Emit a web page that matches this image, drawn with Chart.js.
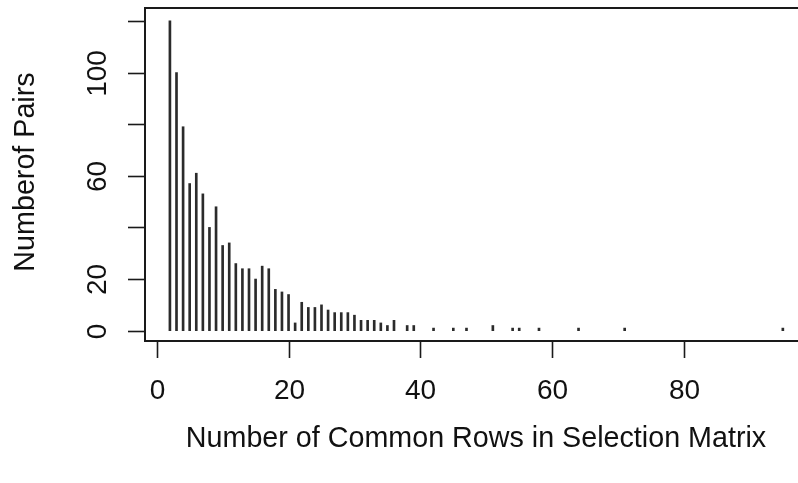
<!DOCTYPE html>
<html>
<head>
<meta charset="utf-8">
<script src="https://cdn.jsdelivr.net/npm/chart.js@4/dist/chart.umd.min.js"></script>
<style>
    body { margin: 0; background: #fff; overflow: hidden; }
    canvas { display: block; }
</style>
</head>
<body>
<canvas id="chart" width="798" height="483"></canvas>
<script>
const commonRows = [2, 3, 4, 5, 6, 7, 8, 9, 10, 11, 12, 13, 14, 15, 16, 17, 18, 19, 20,
    21, 22, 23, 24, 25, 26, 27, 28, 29, 30, 31, 32, 33, 34, 35, 36, 38, 39,
    42, 45, 47, 51, 54, 55, 58, 64, 71, 95];
const pairCounts = [120, 100, 79, 57, 61, 53, 40, 48, 33, 34, 26, 24, 24, 20, 25, 24, 16, 15, 14,
    3, 11, 9, 9, 10, 8, 7, 7, 7, 6, 4, 4, 4, 3, 2, 4, 2, 2,
    1, 1, 1, 2, 1, 1, 1, 1, 1, 1];

const xTicks = [0, 20, 40, 60, 80];
const yTicks = [0, 20, 40, 60, 80, 100, 120];
// R drops the labels that would overlap
const yTickLabels = ['0', '20', '', '60', '', '100', ''];

const xTitle = 'Number of Common Rows in Selection Matrix';
const yTitle = 'Numberof Pairs';

const FONT = '28px "Liberation Sans", Arial, sans-serif';
const TITLE_FONT = '28.7px "Liberation Sans", Arial, sans-serif';
const INK = '#111';
const TICK = 17;

const rBase = {
    id: 'rBase',
    afterDraw(chart) {
        const { ctx, chartArea } = chart;
        const { x, y } = chart.scales;
        const { left, top, bottom } = chartArea;

        ctx.save();
        ctx.strokeStyle = '#1a1a1a';
        ctx.lineWidth = 2;
        // box, right side runs off the canvas like the original
        ctx.strokeRect(left, top, chartArea.right - left + 40, bottom - top);

        ctx.lineWidth = 1.6;
        ctx.fillStyle = INK;
        ctx.font = FONT;

        ctx.textAlign = 'center';
        ctx.textBaseline = 'middle';
        xTicks.forEach((v) => {
            const px = Math.round(x.getPixelForValue(v)) + 0.5;
            ctx.beginPath();
            ctx.moveTo(px, bottom);
            ctx.lineTo(px, bottom + TICK);
            ctx.stroke();
            ctx.fillText(String(v), px, 391);
        });

        yTicks.forEach((v, i) => {
            const py = Math.round(y.getPixelForValue(v)) + 0.5;
            ctx.beginPath();
            ctx.moveTo(left - TICK, py);
            ctx.lineTo(left, py);
            ctx.stroke();
            if (yTickLabels[i]) {
                ctx.save();
                ctx.translate(98, py);
                ctx.rotate(-Math.PI / 2);
                ctx.fillText(yTickLabels[i], 0, 0);
                ctx.restore();
            }
        });

        ctx.font = TITLE_FONT;
        ctx.fillText(xTitle, 476, 439);

        ctx.save();
        ctx.translate(26, 172);
        ctx.rotate(-Math.PI / 2);
        ctx.fillText(yTitle, 0, 0);
        ctx.restore();

        ctx.restore();
    },
};

new Chart(document.getElementById('chart'), {
    type: 'bar',
    data: {
        datasets: [
            {
                data: commonRows.map((r, i) => ({ x: r, y: pairCounts[i] })),
                backgroundColor: '#2b2b2b',
                borderWidth: 0,
                barThickness: 2,
            },
        ],
    },
    options: {
        responsive: false,
        animation: false,
        layout: {
            padding: { left: 145, top: 8, right: 0, bottom: 142 },
        },
        plugins: {
            legend: { display: false },
            tooltip: { enabled: false },
        },
        scales: {
            x: {
                type: 'linear',
                offset: false,
                min: -1.78,
                max: 97.3,
                display: false,
            },
            y: {
                min: -4,
                max: 125,
                display: false,
            },
        },
    },
    plugins: [rBase],
});
</script>
</body>
</html>
